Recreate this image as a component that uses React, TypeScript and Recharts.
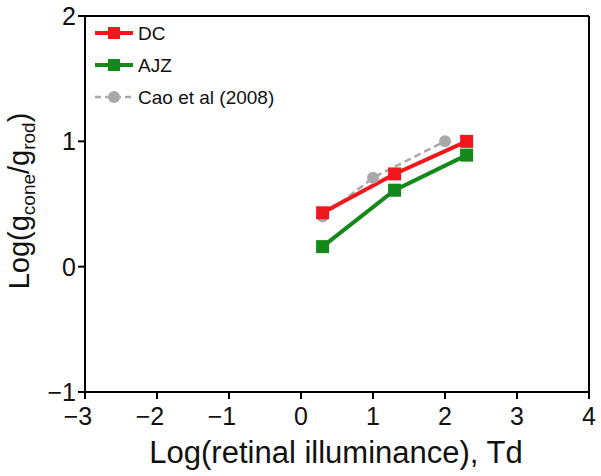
import React from 'react'
import {
  ComposedChart,
  Line,
  XAxis,
  YAxis,
  ReferenceLine,
  Legend,
} from 'recharts'

const dcX = [0.3, 1.3, 2.3]
const dcY = [0.43, 0.74, 1.0]
const ajzX = [0.3, 1.3, 2.3]
const ajzY = [0.16, 0.61, 0.89]
const caoX = [0.3, 1.0, 2.0]
const caoY = [0.4, 0.71, 1.0]
const xTicks = [-3, -2, -1, 0, 1, 2, 3, 4]
const yTicks = [-1, 0, 1, 2]

const RED = '#f2171c'
const GREEN = '#13891a'
const GRAY = '#a9a9a9'
const FONT = '"Liberation Sans", Arial, Helvetica, sans-serif'

const toRows = (xs: number[], ys: number[]) => xs.map((x, i) => ({ x, y: ys[i] }))

const dcData = toRows(dcX, dcY)
const ajzData = toRows(ajzX, ajzY)
const caoData = toRows(caoX, caoY)

const fmt = (v: number) => String(v).replace('-', '\u2212')

const square = (color: string) => (props: any) => (
  <rect
    key={`sq-${color}-${props.index}`}
    x={props.cx - 6.5}
    y={props.cy - 6.5}
    width={13}
    height={13}
    fill={color}
  />
)

const circle = (props: any) => (
  <circle key={`c-${props.index}`} cx={props.cx} cy={props.cy} r={6} fill={GRAY} />
)

const legendItems = [
  { name: 'DC', color: RED, kind: 'square' },
  { name: 'AJZ', color: GREEN, kind: 'square' },
  { name: 'Cao et al (2008)', color: GRAY, kind: 'circle' },
]

function LegendBox() {
  return (
    <svg width={240} height={95} style={{ fontFamily: FONT }}>
      {legendItems.map((it, i) => {
        const y = 10 + i * 32
        return (
          <g key={it.name}>
            <line
              x1={0}
              x2={38}
              y1={y}
              y2={y}
              stroke={it.color}
              strokeWidth={it.kind === 'circle' ? 2.5 : 4}
              strokeDasharray={it.kind === 'circle' ? '6 4' : undefined}
            />
            {it.kind === 'square' ? (
              <rect x={13} y={y - 6} width={12} height={12} fill={it.color} />
            ) : (
              <circle cx={19} cy={y} r={6} fill={it.color} />
            )}
            <text x={43} y={y + 7} fontSize={19} fill="#111">
              {it.name}
            </text>
          </g>
        )
      })}
    </svg>
  )
}

// x tick labels: digit centred under the tick, minus sign hangs to the left
const XTick = (props: any) => {
  const v = props.payload.value
  return (
    <text
      x={props.x + (v < 0 ? -7 : 0)}
      y={props.y + 26}
      textAnchor="middle"
      fontSize={25}
      fill="#111"
      fontFamily={FONT}
    >
      {fmt(v)}
    </text>
  )
}

const YTick = (props: any) => (
  <text
    x={props.x - 2}
    y={props.y + 9}
    textAnchor="end"
    fontSize={25}
    fill="#111"
    fontFamily={FONT}
  >
    {fmt(props.payload.value)}
  </text>
)

export default function App() {
  return (
    <div style={{ position: 'absolute', left: 0, top: 0, width: 601, height: 476, background: '#fff' }}>
      <ComposedChart
        width={601}
        height={476}
        margin={{ top: 16, right: 12, bottom: 0, left: 0 }}
        style={{ fontFamily: FONT }}
      >
        <XAxis
          dataKey="x"
          type="number"
          domain={[-3, 4]}
          ticks={xTicks}
          allowDataOverflow
          height={84}
          tickSize={7}
          tickMargin={0}
          axisLine={{ stroke: '#000', strokeWidth: 2 }}
          tickLine={{ stroke: '#000', strokeWidth: 2 }}
          tick={XTick}
          label={{
            content: (p: any) => {
              const vb = p.viewBox || { x: 85, y: 392, width: 504, height: 84 }
              return (
                <text
                  x={vb.x + vb.width / 2 - 1}
                  y={vb.y + 71}
                  textAnchor="middle"
                  fontSize={31}
                  fill="#111"
                >
                  Log(retinal illuminance), Td
                </text>
              )
            },
          }}
        />
        <YAxis
          dataKey="y"
          type="number"
          domain={[-1, 2]}
          ticks={yTicks}
          allowDataOverflow
          width={85}
          tickSize={7}
          tickMargin={0}
          axisLine={{ stroke: '#000', strokeWidth: 2 }}
          tickLine={{ stroke: '#000', strokeWidth: 2 }}
          tick={YTick}
          label={{
            content: (p: any) => {
              const vb = p.viewBox || { x: 0, y: 16, width: 85, height: 376 }
              const cx = 29
              const cy = vb.y + vb.height / 2 - 3
              return (
                <text
                  x={cx}
                  y={cy}
                  textAnchor="middle"
                  fontSize={29}
                  fill="#111"
                  transform={`rotate(-90 ${cx} ${cy})`}
                >
                  Log(g
                  <tspan fontSize={19} dy={6}>cone</tspan>
                  <tspan dy={-6}>/g</tspan>
                  <tspan fontSize={19} dy={6}>rod</tspan>
                  <tspan dy={-6}>)</tspan>
                </text>
              )
            },
          }}
        />
        <ReferenceLine y={2} stroke="#000" strokeWidth={2} />
        <ReferenceLine x={4} stroke="#000" strokeWidth={2} />
        <Line
          data={caoData}
          dataKey="y"
          stroke={GRAY}
          strokeWidth={2.5}
          strokeDasharray="7 4"
          dot={circle}
          activeDot={false}
          isAnimationActive={false}
          name="Cao et al (2008)"
        />
        <Line
          data={ajzData}
          dataKey="y"
          stroke={GREEN}
          strokeWidth={4}
          dot={square(GREEN)}
          activeDot={false}
          isAnimationActive={false}
          name="AJZ"
        />
        <Line
          data={dcData}
          dataKey="y"
          stroke={RED}
          strokeWidth={4}
          dot={square(RED)}
          activeDot={false}
          isAnimationActive={false}
          name="DC"
        />
        <Legend
          layout="vertical"
          align="center"
          verticalAlign="middle"
          wrapperStyle={{ position: 'absolute', left: 95, top: 23, width: 240 }}
          content={() => <LegendBox />}
        />
      </ComposedChart>
    </div>
  )
}
